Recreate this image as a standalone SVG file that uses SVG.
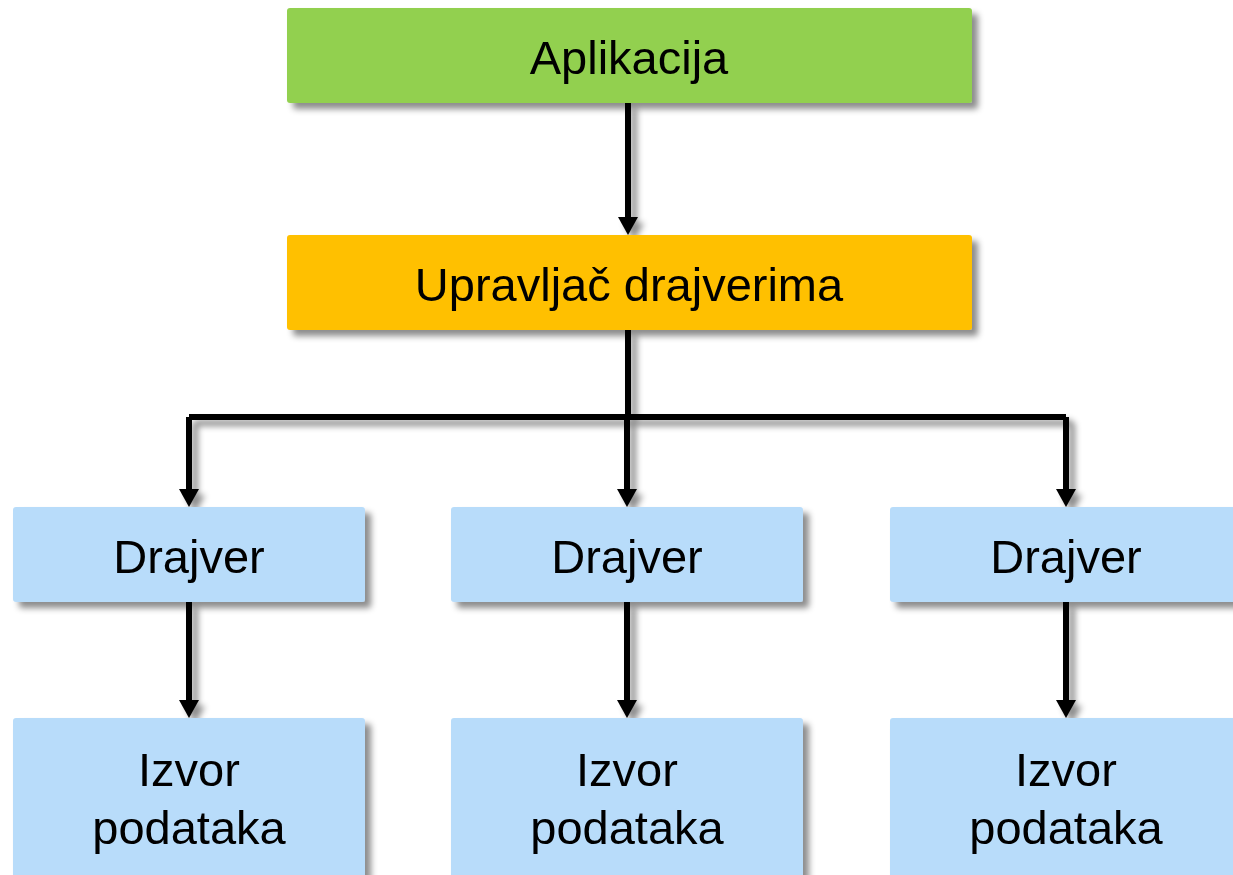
<svg xmlns="http://www.w3.org/2000/svg" width="1233" height="875" viewBox="0 0 1233 875">
<style>
.box{filter:url(#sh);}
.lbl{font-family:"Liberation Sans",Arial,sans-serif;font-size:47px;fill:#000;text-anchor:middle;}
.con{fill:none;stroke:#000;stroke-width:6;stroke-linejoin:miter;}
.ah{fill:#000;}
</style>
<defs>
<filter id="sh" x="-10%" y="-20%" width="130%" height="150%">
<feDropShadow dx="6" dy="6" stdDeviation="3" flood-color="#000" flood-opacity="0.45"/>
</filter>
<path id="head" d="M-10,-18 L10,-18 L0,0 Z"/>
</defs>
<rect width="1233" height="875" fill="#fff"/>
<g id="connectors" filter="url(#sh)">
<path class="con" d="M628,103 V218"/>
<path class="con" d="M628,330 V417"/>
<path class="con" d="M189,417 H1066"/>
<path class="con" d="M189,417 V490"/>
<path class="con" d="M627,417 V490"/>
<path class="con" d="M1066,417 V490"/>
<path class="con" d="M189,602 V701"/>
<path class="con" d="M627,602 V701"/>
<path class="con" d="M1066,602 V701"/>
<use href="#head" class="ah" x="628" y="235"/>
<use href="#head" class="ah" x="189" y="507"/>
<use href="#head" class="ah" x="627" y="507"/>
<use href="#head" class="ah" x="1066" y="507"/>
<use href="#head" class="ah" x="189" y="718"/>
<use href="#head" class="ah" x="627" y="718"/>
<use href="#head" class="ah" x="1066" y="718"/>
</g>
<g id="aplikacija"><rect class="box" x="287" y="8" width="685" height="95" rx="3" fill="#92D050"/><text class="lbl" x="629" y="74">Aplikacija</text></g>
<g id="upravljac"><rect class="box" x="287" y="235" width="685" height="95" rx="3" fill="#FFC000"/><text class="lbl" x="629" y="301">Upravljač drajverima</text></g>
<g id="drajver1"><rect class="box" x="13" y="507" width="352" height="95" rx="3" fill="#B8DCFA"/><text class="lbl" x="189" y="573">Drajver</text></g>
<g id="drajver2"><rect class="box" x="451" y="507" width="352" height="95" rx="3" fill="#B8DCFA"/><text class="lbl" x="627" y="573">Drajver</text></g>
<g id="drajver3"><rect class="box" x="890" y="507" width="352" height="95" rx="3" fill="#B8DCFA"/><text class="lbl" x="1066" y="573">Drajver</text></g>
<g id="izvor1"><rect class="box" x="13" y="718" width="352" height="170" rx="3" fill="#B8DCFA"/><text class="lbl" x="189" y="786">Izvor</text><text class="lbl" x="189" y="844">podataka</text></g>
<g id="izvor2"><rect class="box" x="451" y="718" width="352" height="170" rx="3" fill="#B8DCFA"/><text class="lbl" x="627" y="786">Izvor</text><text class="lbl" x="627" y="844">podataka</text></g>
<g id="izvor3"><rect class="box" x="890" y="718" width="352" height="170" rx="3" fill="#B8DCFA"/><text class="lbl" x="1066" y="786">Izvor</text><text class="lbl" x="1066" y="844">podataka</text></g>
</svg>
